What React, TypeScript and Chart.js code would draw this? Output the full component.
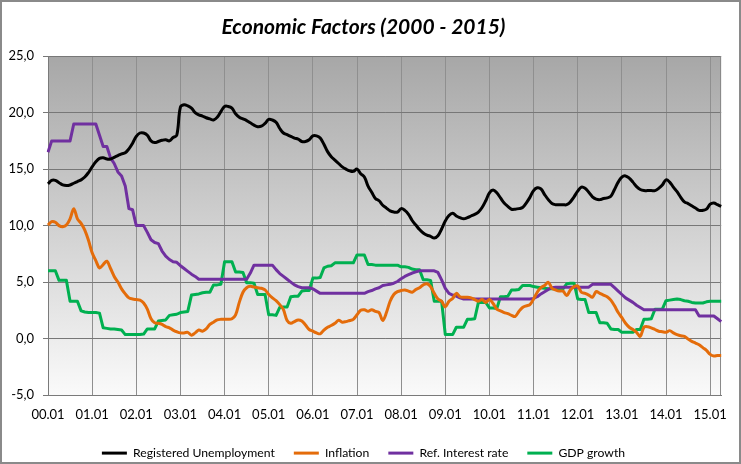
import { useEffect, useRef } from 'react';
import { Chart, registerables } from 'chart.js';

Chart.register(...registerables);

// ---- Categories (monthly, 2000.01 – 2015.04) ----
const YEARS = ['00', '01', '02', '03', '04', '05', '06', '07', '08', '09', '10', '11', '12', '13', '14', '15'];
const MONTHS = ['01', '02', '03', '04', '05', '06', '07', '08', '09', '10', '11', '12'];
const LAST_YEAR_MONTHS = 4;
const CATEGORIES: string[] = [];
YEARS.forEach((y, yi) => {
  MONTHS.forEach((m, mi) => {
    if (yi < YEARS.length - 1 || mi < LAST_YEAR_MONTHS) CATEGORIES.push(`${y}.${m}`);
  });
});

// ---- Series ----
const UNEMPLOYMENT = [
  13.7, 14.0, 14.0, 13.8, 13.6, 13.55, 13.6, 13.75, 13.9, 14.05, 14.3, 14.7,
  15.2, 15.65, 15.95, 16.0, 15.9, 15.9, 16.05, 16.2, 16.35, 16.45, 16.8, 17.3,
  17.9, 18.2, 18.2, 18.0, 17.5, 17.35, 17.45, 17.55, 17.6, 17.5, 17.8, 18.0,
  20.5, 20.7, 20.6, 20.4, 20.0, 19.8, 19.7, 19.55, 19.45, 19.35, 19.6, 20.1,
  20.55, 20.55, 20.4, 19.9, 19.6, 19.45, 19.3, 19.1, 18.9, 18.75, 18.8, 19.05,
  19.4, 19.35, 19.15, 18.6, 18.2, 18.05, 17.9, 17.75, 17.65, 17.45, 17.45, 17.6,
  17.95, 17.95, 17.75, 17.2, 16.55, 16.1, 15.8, 15.5, 15.2, 15.0, 14.85, 14.8,
  15.0, 14.6, 14.3, 13.5, 12.95, 12.4, 12.2, 11.8, 11.55, 11.3, 11.2, 11.2,
  11.5, 11.35, 11.0, 10.45, 10.05, 9.65, 9.35, 9.15, 9.05, 8.9, 9.1, 9.7,
  10.4, 10.9, 11.1, 10.85, 10.7, 10.6, 10.7, 10.85, 11.0, 11.2, 11.6, 12.2,
  12.9, 13.15, 12.9, 12.45, 12.0, 11.7, 11.45, 11.45, 11.5, 11.6, 12.0, 12.5,
  13.1, 13.35, 13.25, 12.75, 12.3, 11.95, 11.85, 11.85, 11.85, 11.85, 12.1, 12.55,
  13.05, 13.4, 13.3, 12.95, 12.55, 12.35, 12.3, 12.4, 12.45, 12.6, 13.2, 13.85,
  14.3, 14.4, 14.2, 13.85, 13.45, 13.2, 13.1, 13.1, 13.1, 13.1, 13.3, 13.6,
  14.05, 13.85, 13.4, 13.0, 12.5, 12.1, 11.95, 11.75, 11.55, 11.35, 11.35, 11.45,
  11.9, 12.0, 11.85, 11.7,
];

const INFLATION = [
  10.05, 10.35, 10.3, 10.0, 9.9, 10.05, 10.6, 11.5, 10.6, 10.2, 9.6, 8.7,
  7.6, 6.9, 6.25, 6.55, 6.85, 6.2, 5.5, 5.0, 4.4, 3.95, 3.6, 3.5,
  3.45, 3.4, 3.15, 2.6, 1.75, 1.4, 1.35, 1.25, 1.05, 0.95, 0.75, 0.6,
  0.5, 0.5, 0.55, 0.3, 0.5, 0.75, 0.65, 0.85, 1.25, 1.45, 1.65, 1.7,
  1.7, 1.7, 1.75, 2.1, 3.2, 4.1, 4.5, 4.62, 4.56, 4.5, 4.45, 4.3,
  3.9, 3.6, 3.35, 3.0, 2.55, 1.6, 1.35, 1.5, 1.65, 1.55, 1.2, 0.8,
  0.65, 0.5, 0.42, 0.75, 1.0, 1.15, 1.35, 1.62, 1.45, 1.5, 1.6, 1.7,
  2.1, 2.5, 2.55, 2.42, 2.55, 2.4, 2.3, 1.6, 2.3, 3.3, 3.9, 4.15,
  4.25, 4.3, 4.2, 4.1, 4.35, 4.5, 4.75, 4.85, 4.6, 4.0, 3.5, 3.3,
  2.8, 3.3, 3.55, 4.0, 3.7, 3.65, 3.65, 3.6, 3.45, 3.3, 3.45, 3.2,
  3.45, 3.1, 2.6, 2.45, 2.3, 2.2, 2.05, 1.95, 2.4, 2.75, 2.9, 3.0,
  3.5, 4.1, 4.5, 4.7, 4.98, 4.45, 4.3, 4.2, 4.2, 3.8, 4.3, 4.6,
  4.65, 4.1, 4.0, 3.85, 3.65, 4.15, 4.0, 3.85, 3.7, 3.4, 2.9, 2.3,
  1.85, 1.35, 1.0, 0.8, 0.55, 0.2, 1.0, 1.05, 0.95, 0.8, 0.65, 0.6,
  0.55, 0.7, 0.5, 0.35, 0.25, 0.2, -0.05, -0.25, -0.4, -0.55, -0.8, -1.05,
  -1.4, -1.55, -1.5, -1.5,
];

const REF_INTEREST = [
  16.5, 17.5, 17.5, 17.5, 17.5, 17.5, 17.5, 19.0, 19.0, 19.0, 19.0, 19.0,
  19.0, 19.0, 18.0, 17.0, 17.0, 16.0, 15.5, 14.75, 14.4, 13.5, 11.5, 11.4,
  10.0, 10.0, 10.0, 9.4, 8.75, 8.5, 8.4, 7.75, 7.3, 7.0, 6.8, 6.75,
  6.45, 6.2, 5.95, 5.7, 5.5, 5.25, 5.25, 5.25, 5.25, 5.25, 5.25, 5.25,
  5.25, 5.25, 5.25, 5.25, 5.25, 5.25, 5.25, 5.8, 6.5, 6.5, 6.5, 6.5,
  6.5, 6.5, 6.1, 5.75, 5.5, 5.25, 5.0, 4.75, 4.6, 4.5, 4.5, 4.5,
  4.4, 4.2, 4.0, 4.0, 4.0, 4.0, 4.0, 4.0, 4.0, 4.0, 4.0, 4.0,
  4.0, 4.0, 4.0, 4.15, 4.25, 4.4, 4.5, 4.7, 4.75, 4.8, 4.9, 5.05,
  5.3, 5.5, 5.65, 5.8, 5.9, 6.0, 6.0, 6.0, 6.0, 6.0, 5.85, 5.2,
  4.45, 4.0, 3.85, 3.75, 3.6, 3.5, 3.5, 3.5, 3.5, 3.5, 3.5, 3.5,
  3.5, 3.5, 3.5, 3.5, 3.5, 3.5, 3.5, 3.5, 3.5, 3.5, 3.5, 3.5,
  3.55, 3.7, 3.95, 4.15, 4.35, 4.5, 4.55, 4.55, 4.55, 4.55, 4.55, 4.55,
  4.55, 4.55, 4.55, 4.55, 4.8, 4.8, 4.8, 4.8, 4.8, 4.8, 4.5, 4.2,
  3.9, 3.6, 3.4, 3.2, 2.95, 2.75, 2.55, 2.55, 2.55, 2.55, 2.55, 2.55,
  2.55, 2.55, 2.55, 2.55, 2.55, 2.55, 2.55, 2.55, 2.55, 2.0, 2.0, 2.0,
  2.0, 2.0, 1.75, 1.5,
];

const GDP_GROWTH = [
  6.0, 6.0, 6.0, 5.15, 5.15, 5.15, 3.3, 3.3, 3.3, 2.45, 2.35, 2.3,
  2.3, 2.3, 2.25, 0.95, 0.9, 0.85, 0.85, 0.8, 0.75, 0.35, 0.35, 0.35,
  0.35, 0.35, 0.4, 0.85, 0.85, 0.85, 1.55, 1.6, 1.65, 2.05, 2.1, 2.15,
  2.3, 2.35, 2.4, 3.85, 3.9, 3.95, 4.05, 4.1, 4.1, 4.75, 4.75, 4.8,
  6.8, 6.8, 6.8, 5.9, 5.9, 5.85, 4.95, 4.95, 4.9, 3.9, 3.9, 3.9,
  2.1, 2.1, 2.05, 2.75, 2.8, 2.8, 3.7, 3.75, 3.75, 4.2, 4.25, 4.25,
  5.35, 5.35, 5.4, 6.25, 6.4, 6.45, 6.7, 6.7, 6.7, 6.7, 6.7, 6.7,
  7.4, 7.4, 7.4, 6.55, 6.55, 6.5, 6.5, 6.5, 6.5, 6.5, 6.5, 6.5,
  6.35, 6.35, 6.3, 6.15, 6.1, 6.1, 5.2, 5.2, 5.15, 3.3, 3.3, 3.3,
  0.35, 0.35, 0.35, 1.0, 1.0, 1.0, 1.7, 1.7, 1.75, 3.2, 3.2, 3.2,
  2.7, 2.7, 2.65, 3.7, 3.7, 3.75, 4.3, 4.3, 4.35, 4.7, 4.7, 4.7,
  4.6, 4.55, 4.5, 4.45, 4.4, 4.4, 4.4, 4.4, 4.4, 4.85, 4.9, 4.9,
  3.5, 3.45, 3.45, 2.3, 2.3, 2.3, 1.4, 1.4, 1.35, 0.85, 0.8, 0.8,
  0.55, 0.55, 0.55, 0.55, 0.8, 0.8, 1.7, 1.7, 1.75, 2.6, 2.6, 2.6,
  3.35, 3.4, 3.45, 3.5, 3.45, 3.35, 3.3, 3.2, 3.15, 3.15, 3.15, 3.25,
  3.3, 3.3, 3.3, 3.3,
];

const SERIES_NAMES = ['Registered Unemployment', 'Inflation', 'Ref. Interest rate', 'GDP growth'];
const TITLE = 'Economic Factors (2000 - 2015)';
const Y_MIN = -5;
const Y_MAX = 25;
const Y_STEP = 5;
const LABEL_EVERY = 12;

const FONT = 'Lato, "Open Sans", "DejaVu Sans", sans-serif';

const plotBackground = {
  id: 'plotBackground',
  beforeDraw(chart: any) {
    const { ctx, chartArea: a } = chart;
    if (!a) return;
    const g = ctx.createLinearGradient(0, a.top, 0, a.bottom);
    g.addColorStop(0, '#a7a7a7');
    g.addColorStop(1, '#fafafa');
    ctx.save();
    ctx.fillStyle = g;
    ctx.fillRect(a.left, a.top, a.right - a.left, a.bottom - a.top);
    ctx.restore();
  },
  beforeDatasetsDraw(chart: any) {
    const { ctx, chartArea: a } = chart;
    ctx.save();
    ctx.strokeStyle = '#8a8a8a';
    ctx.lineWidth = 1;
    ctx.beginPath();
    ctx.moveTo(Math.round(a.right) - 0.5, a.top);
    ctx.lineTo(Math.round(a.right) - 0.5, a.bottom);
    ctx.stroke();
    ctx.restore();
  },
};

export default function App() {
  const canvasRef = useRef<HTMLCanvasElement | null>(null);

  useEffect(() => {
    if (!canvasRef.current) return;
    const mk = (label: string, data: number[], color: string, tension: number) => ({
      label,
      data,
      borderColor: color,
      backgroundColor: color,
      borderWidth: 3,
      pointRadius: 0,
      pointHoverRadius: 0,
      fill: false,
      tension,
      borderJoinStyle: 'round' as const,
    });
    const chart = new Chart(canvasRef.current, {
      type: 'line',
      data: {
        labels: CATEGORIES,
        datasets: [
          mk(SERIES_NAMES[0], UNEMPLOYMENT, '#000000', 0.4),
          mk(SERIES_NAMES[1], INFLATION, '#E46C0A', 0.35),
          mk(SERIES_NAMES[2], REF_INTEREST, '#7030A0', 0),
          mk(SERIES_NAMES[3], GDP_GROWTH, '#00B050', 0),
        ],
      },
      options: {
        animation: false,
        responsive: true,
        maintainAspectRatio: false,
        events: [],
        layout: { padding: { left: 0, right: 14, top: 0, bottom: 0 } },
        plugins: {
          title: {
            display: true,
            text: TITLE,
            color: '#000',
            font: { family: FONT, size: 21, weight: 'bold', style: 'italic' },
            padding: { top: 13, bottom: 16 },
          },
          legend: {
            position: 'bottom',
            maxHeight: 34,
            labels: {
              boxWidth: 25,
              boxHeight: 3,
              padding: 19,
              color: '#000',
              font: { family: FONT, size: 12.2 },
              generateLabels: (c: any) =>
                Chart.defaults.plugins.legend.labels.generateLabels(c).map((l: any) => ({
                  ...l,
                  fillStyle: l.strokeStyle,
                  lineWidth: 0,
                })),
            },
          },
          tooltip: { enabled: false },
        },
        scales: {
          x: {
            type: 'category',
            offset: false,
            grid: { color: '#8f8f8f', lineWidth: 1, drawTicks: false, offset: false },
            border: { color: '#7a7a7a' },
            ticks: {
              autoSkip: false,
              maxRotation: 0,
              minRotation: 0,
              padding: 12,
              color: '#000',
              font: { family: FONT, size: 13 },
            },
            afterBuildTicks: (s: any) => {
              s.ticks = s.ticks.filter((t: any) => t.value % LABEL_EVERY === 0);
            },
            afterFit: (s: any) => {
              s.height = 33;
            },
          },
          y: {
            min: Y_MIN,
            max: Y_MAX,
            ticks: {
              stepSize: Y_STEP,
              padding: 9,
              color: '#000',
              font: { family: FONT, size: 13 },
              callback: (v: any) => Number(v).toFixed(1).replace('.', ','),
            },
            grid: { color: '#777777', lineWidth: 1, tickLength: 5, tickColor: '#777777' },
            border: { color: '#7a7a7a' },
            afterFit: (s: any) => {
              s.width = 46;
            },
          },
        },
      },
      plugins: [plotBackground],
    });
    return () => chart.destroy();
  }, []);

  return (
    <div
      style={{
        position: 'absolute',
        left: 0,
        top: 0,
        width: 741,
        height: 464,
        boxSizing: 'border-box',
        border: '2px solid #8a8a8a',
        background: '#ffffff',
      }}
    >
      <div style={{ position: 'relative', width: 737, height: 460 }}>
        <canvas ref={canvasRef} />
      </div>
    </div>
  );
}
